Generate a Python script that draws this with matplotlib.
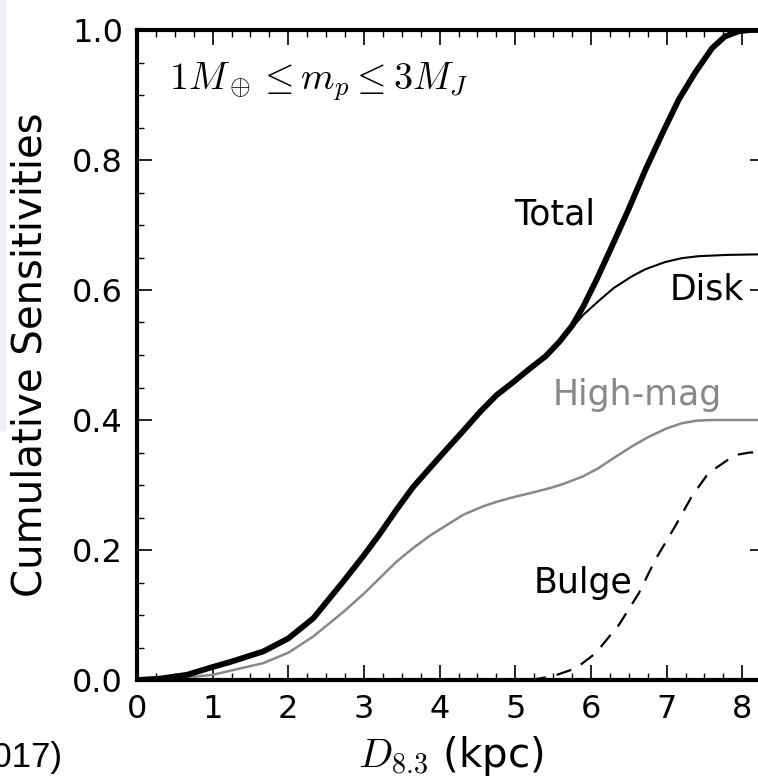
import matplotlib
matplotlib.use("Agg")
import matplotlib.pyplot as plt
from matplotlib.ticker import MultipleLocator, FormatStrFormatter
from matplotlib.patches import Rectangle

plt.rcParams['mathtext.fontset'] = 'cm'
plt.rcParams['font.family'] = ['DejaVu Sans']

# ---- data ----
total_x = [0, 0.3, 0.66, 1.0, 1.24, 1.67, 2.0, 2.33, 2.73, 3.0, 3.21, 3.43, 3.65, 3.87,
           4.1, 4.31, 4.53, 4.75, 4.97, 5.18, 5.4, 5.58, 5.75, 5.9, 6.07, 6.28, 6.5,
           6.72, 6.94, 7.16, 7.38, 7.6, 7.77, 7.95, 8.1, 8.3]
total_y = [0, 0.002, 0.008, 0.02, 0.028, 0.044, 0.064, 0.095, 0.152, 0.192, 0.225,
           0.262, 0.297, 0.326, 0.356, 0.383, 0.412, 0.438, 0.458, 0.478, 0.498, 0.52,
           0.545, 0.575, 0.615, 0.668, 0.725, 0.785, 0.84, 0.893, 0.935, 0.972, 0.99,
           0.998, 1.0, 1.0]

disk_x = [0, 0.3, 0.66, 1.0, 1.24, 1.67, 2.0, 2.33, 2.73, 3.0, 3.21, 3.43, 3.65, 3.87,
          4.1, 4.31, 4.53, 4.75, 4.97, 5.18, 5.4, 5.58, 5.75, 5.9, 6.1, 6.3, 6.54, 6.72,
          6.98, 7.2, 7.42, 7.8, 8.3]
disk_y = [0, 0.002, 0.008, 0.02, 0.028, 0.044, 0.064, 0.095, 0.152, 0.192, 0.225,
          0.262, 0.297, 0.326, 0.356, 0.383, 0.412, 0.438, 0.458, 0.478, 0.498, 0.52,
          0.542, 0.562, 0.583, 0.603, 0.621, 0.632, 0.643, 0.649, 0.652, 0.654, 0.655]

highmag_x = [0, 0.5, 1.0, 1.67, 2.0, 2.33, 2.73, 3.0, 3.21, 3.43, 3.65, 3.87, 4.13,
             4.31, 4.57, 4.75, 5.0, 5.18, 5.45, 5.62, 5.89, 6.1, 6.32, 6.55, 6.76, 7.0,
             7.2, 7.4, 7.6, 8.3]
highmag_y = [0, 0.002, 0.008, 0.026, 0.042, 0.067, 0.105, 0.133, 0.157, 0.182, 0.203,
             0.222, 0.241, 0.254, 0.267, 0.274, 0.282, 0.287, 0.295, 0.301, 0.313, 0.326,
             0.343, 0.36, 0.374, 0.387, 0.395, 0.399, 0.40, 0.40]

bulge_x = [5.2, 5.5, 5.8, 6.06, 6.37, 6.63, 6.85, 7.11, 7.33, 7.55, 7.9, 8.1, 8.3]
bulge_y = [0.0, 0.006, 0.018, 0.041, 0.085, 0.133, 0.185, 0.236, 0.282, 0.318, 0.346,
           0.35, 0.35]

x_ticks = [0, 1, 2, 3, 4, 5, 6, 7, 8]
y_ticks = [0.0, 0.2, 0.4, 0.6, 0.8, 1.0]

# ---- figure ----
W, H = 758, 782
fig = plt.figure(figsize=(W / 100, H / 100), dpi=100)
L, R, T, B = 137, 765, 30, 680
ax = fig.add_axes([L / W, 1 - B / H, (R - L) / W, (B - T) / H])

ax.plot(total_x, total_y, color='black', lw=4.2, solid_joinstyle='round', zorder=4)
ax.plot(disk_x, disk_y, color='black', lw=1.5, solid_joinstyle='round', zorder=3)
ax.plot(highmag_x, highmag_y, color='#888888', lw=1.8, solid_joinstyle='round', zorder=2)
ax.plot(bulge_x, bulge_y, color='black', lw=1.6, dashes=(7, 5), zorder=2)

ax.set_xlim(0, 8.3)
ax.set_ylim(0, 1.0)
ax.set_xticks(x_ticks)
ax.set_yticks(y_ticks)
ax.xaxis.set_minor_locator(MultipleLocator(0.25))
ax.yaxis.set_minor_locator(MultipleLocator(0.05))
ax.yaxis.set_major_formatter(FormatStrFormatter('%.1f'))
ax.tick_params(which='both', direction='in', top=True, right=True)
ax.tick_params(which='major', length=11, width=1.2, labelsize=23, pad=10)
ax.tick_params(which='minor', length=5, width=1.0)
for s in ax.spines.values():
    s.set_linewidth(3.0)

ax.set_ylabel('Cumulative Sensitivities', fontsize=29)
ax.yaxis.set_label_coords(-0.137, 0.5)
ax.set_xlabel('$D_{8.3}$ (kpc)', fontsize=29)
ax.xaxis.set_label_coords(0.5, -0.083)

ax.text(0.42, 0.908, r'$1M_\oplus \leq m_p \leq 3M_J$', fontsize=27.5, ha='left',
        va='baseline')
ax.text(5.52, 0.7015, 'Total', fontsize=25, ha='center', va='baseline')
ax.text(7.53, 0.585, 'Disk', fontsize=25, ha='center', va='baseline')
ax.text(6.61, 0.423, 'High-mag', fontsize=25, ha='center', va='baseline', color='#888888')
ax.text(5.9, 0.134, 'Bulge', fontsize=25, ha='center', va='baseline')

# cropped neighbouring caption fragment and left edge strip
fig.text(62 / W, 1 - 767 / H, '2017)', fontsize=25, ha='right', va='baseline',
         family='Liberation Sans')
fig.patches.append(Rectangle((0, 0.45), 5 / W, 0.55, transform=fig.transFigure,
                             color='#f0f2f5', zorder=0))

fig.savefig('out.png', dpi=100)
